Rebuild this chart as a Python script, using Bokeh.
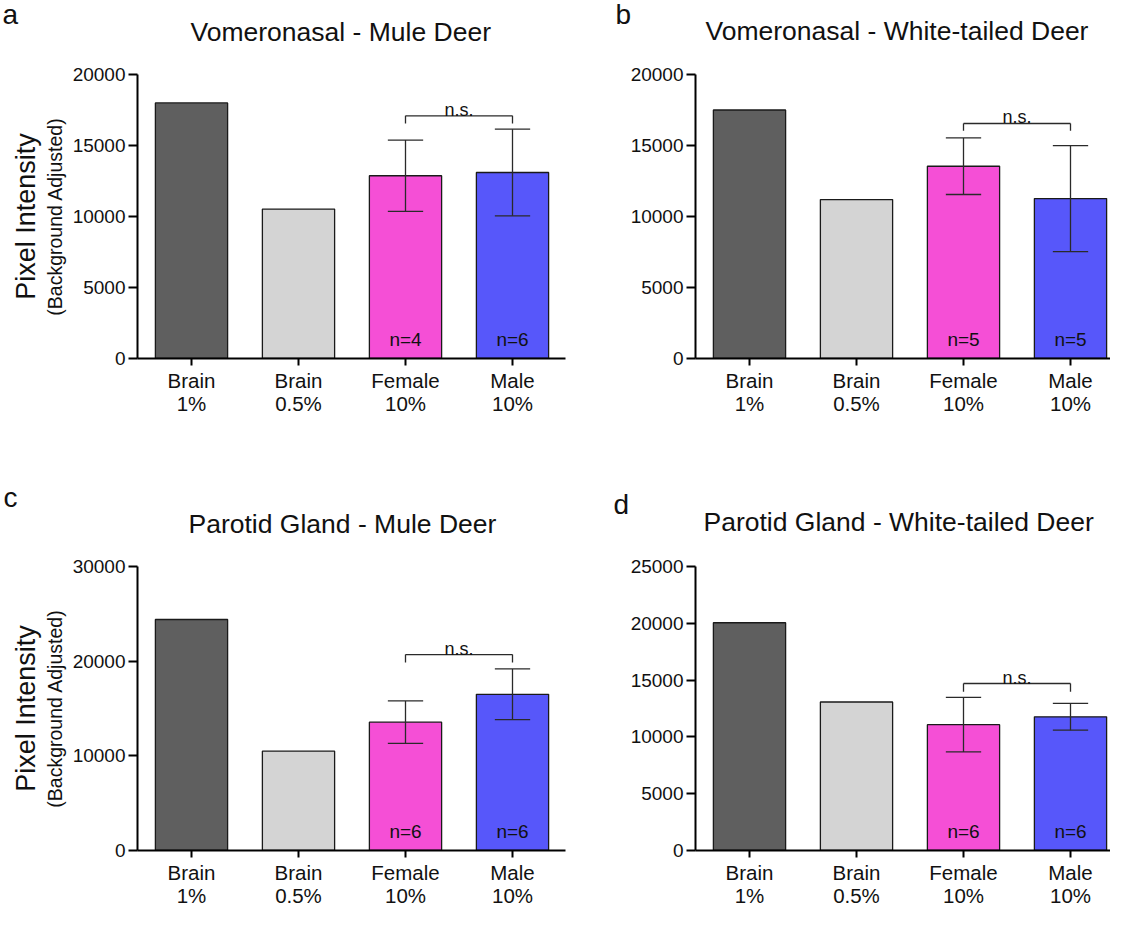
import numpy as np
from bokeh.plotting import figure
from bokeh.models import Range1d, FixedTicker, ColumnDataSource, Title, LinearAxis
from bokeh.layouts import column, row
from bokeh.embed import file_html
from bokeh.resources import INLINE
from bokeh.core.properties import value

# ---------------- data ----------------
categories = ["Brain\n1%", "Brain\n0.5%", "Female\n10%", "Male\n10%"]
bar_colors = ["#5f5f5f", "#d4d4d4", "#f54fd6", "#5757fa"]
letters = ["a", "b", "c", "d"]
titles = ["Vomeronasal - Mule Deer", "Vomeronasal - White-tailed Deer",
          "Parotid Gland - Mule Deer", "Parotid Gland - White-tailed Deer"]

vomeronasal_mule = [18000, 10520, 12870, 13100]
vomeronasal_mule_sem = [2510, 3050]          # Female, Male
vomeronasal_mule_n = [4, 6]

vomeronasal_wtd = [17500, 11190, 13540, 11260]
vomeronasal_wtd_sem = [1990, 3730]
vomeronasal_wtd_n = [5, 5]

parotid_mule = [24400, 10490, 13560, 16500]
parotid_mule_sem = [2240, 2680]
parotid_mule_n = [6, 6]

parotid_wtd = [20050, 13070, 11080, 11770]
parotid_wtd_sem = [2400, 1180]
parotid_wtd_n = [6, 6]

y_max = [20000, 20000, 30000, 25000]
y_step = [5000, 5000, 10000, 5000]
sig_bracket_y = [17090, 16550, 20700, 14700]
sig_leg_end_y = [16550, 16030, 19860, 13970]
sig_label = "n.s."
y_label_main = "Pixel Intensity"
y_label_sub = "(Background Adjusted)"

FONT = "Liberation Sans"
PX_PER_CAT = 107.0

panels = [
    dict(vals=vomeronasal_mule, sem=vomeronasal_mule_sem, n=vomeronasal_mule_n),
    dict(vals=vomeronasal_wtd, sem=vomeronasal_wtd_sem, n=vomeronasal_wtd_n),
    dict(vals=parotid_mule, sem=parotid_mule_sem, n=parotid_mule_n),
    dict(vals=parotid_wtd, sem=parotid_wtd_sem, n=parotid_wtd_n),
]

# layout: width, height, border left/right/top, frame height
layout = [
    dict(W=570, H=466, bl=137, br=5, bt=74, fh=284),
    dict(W=540, H=466, bl=125, br=0, bt=72, fh=286),
    dict(W=570, H=443, bl=137, br=5, bt=100, fh=284),
    dict(W=540, H=443, bl=125, br=0, bt=98, fh=286),
]

# header geometry: gap above frame, title standoff, letter standoff, x offsets
header_spacer = [34, 35, 34, 36]
title_standoff = [-12, -12, -12, -12]
letter_standoff = [-18, -20, 0, -18]
title_offset = [53, 10, 51, 8]
letter_offset = [-135, -80, -134, -82]
ylabel_panels = [0, 2]


def make_panel(i):
    d = panels[i]
    L = layout[i]
    fw = L["W"] - L["bl"] - L["br"]
    bb = L["H"] - L["bt"] - L["fh"]
    x0 = 1 - 54.0 / PX_PER_CAT
    x1 = x0 + fw / PX_PER_CAT
    p = figure(width=L["W"], height=L["H"], output_backend="svg", toolbar_location=None,
               x_range=Range1d(x0, x1), y_range=Range1d(0, y_max[i]), title=None,
               min_border_left=L["bl"], min_border_right=L["br"],
               min_border_top=L["bt"], min_border_bottom=bb, tools="")
    p.outline_line_color = None
    p.grid.visible = False
    p.background_fill_color = "white"
    p.border_fill_color = "white"

    xs = [1, 2, 3, 4]
    src = ColumnDataSource(dict(x=xs, top=d["vals"], color=bar_colors))
    p.vbar(x="x", top="top", bottom=0, width=0.675, fill_color="color",
           line_color="#1a1a1a", line_width=1.3, source=src)

    # error bars for Female / Male
    ex = [3, 4]
    means = d["vals"][2:]
    up = [m + s for m, s in zip(means, d["sem"])]
    lo = [m - s for m, s in zip(means, d["sem"])]
    cap = 0.165
    p.segment(x0=ex, y0=lo, x1=ex, y1=up, line_color="#2a2a2a", line_width=1.3)
    p.segment(x0=[x - cap for x in ex], y0=up, x1=[x + cap for x in ex], y1=up,
              line_color="#2a2a2a", line_width=1.3)
    p.segment(x0=[x - cap for x in ex], y0=lo, x1=[x + cap for x in ex], y1=lo,
              line_color="#2a2a2a", line_width=1.3)

    # significance bracket
    sy, ly = sig_bracket_y[i], sig_leg_end_y[i]
    p.segment(x0=[3, 3, 4], y0=[sy, sy, sy], x1=[4, 3, 4], y1=[sy, ly, ly],
              line_color="#2a2a2a", line_width=1.3)
    p.text(x=[3.5], y=[sy], text=[sig_label], text_align="center",
           text_baseline="alphabetic", y_offset=-6, text_font=value(FONT),
           text_font_size="18px", text_color="#111111")

    # n labels
    p.text(x=ex, y=[0, 0], text=["n=%d" % k for k in d["n"]], text_align="center",
           text_baseline="alphabetic", y_offset=-19, text_font=value(FONT),
           text_font_size="19px", text_color="#111111")

    # axes
    ya = p.yaxis[0]
    ya.ticker = FixedTicker(ticks=list(range(0, y_max[i] + 1, y_step[i])))
    ya.minor_tick_line_color = None
    ya.major_tick_in = 0
    ya.major_tick_out = 9
    ya.major_tick_line_width = 2
    ya.axis_line_width = 2
    ya.axis_line_color = "black"
    ya.major_tick_line_color = "black"
    ya.major_label_standoff = 3
    ya.major_label_text_font = FONT
    ya.major_label_text_font_size = "19px"
    ya.major_label_text_color = "#111111"

    xa = p.xaxis[0]
    xa.ticker = FixedTicker(ticks=xs)
    xa.major_label_overrides = {k: c for k, c in zip(xs, categories)}
    xa.minor_tick_line_color = None
    xa.major_tick_in = 0
    xa.major_tick_out = 7
    xa.major_tick_line_width = 2
    xa.axis_line_width = 2
    xa.axis_line_color = "black"
    xa.major_tick_line_color = "black"
    xa.major_label_standoff = 3
    xa.major_label_text_font = FONT
    xa.major_label_text_font_size = "20.5px"
    xa.major_label_text_line_height = 1.0
    xa.major_label_text_color = "#111111"

    if i in ylabel_panels:
        ya.axis_label = y_label_sub
        ya.axis_label_standoff = 4
        ya.axis_label_text_font = FONT
        ya.axis_label_text_font_size = "19.5px"
        ya.axis_label_text_font_style = "normal"
        ya.axis_label_text_color = "#111111"
        outer = LinearAxis(ticker=FixedTicker(ticks=[]), axis_label=y_label_main)
        outer.axis_line_color = None
        outer.major_tick_line_color = None
        outer.minor_tick_line_color = None
        outer.major_tick_out = 0
        outer.major_tick_in = 0
        outer.major_label_standoff = 0
        outer.axis_label_standoff = 0
        outer.axis_label_text_font = FONT
        outer.axis_label_text_font_size = "27px"
        outer.axis_label_text_font_style = "normal"
        outer.axis_label_text_color = "#111111"
        p.add_layout(outer, "left")

    # blank (white, non-breaking space) header row: gap between frame and title
    p.add_layout(Title(text="\u00a0", text_color="#ffffff", text_font=FONT,
                       text_font_size="26.5px", standoff=header_spacer[i] - 31.6), "above")

    # title and panel letter
    p.add_layout(Title(text=titles[i], align="left", offset=title_offset[i],
                       standoff=title_standoff[i], text_font=FONT, text_font_size="26.5px",
                       text_font_style="normal", text_color="#111111"), "above")
    p.add_layout(Title(text=letters[i], align="left", offset=letter_offset[i],
                       standoff=letter_standoff[i], text_font=FONT, text_font_size="28px",
                       text_font_style="normal", text_color="#111111"), "above")
    return p


figs = [make_panel(i) for i in range(4)]
page = column(row(figs[0], figs[1]), row(figs[2], figs[3]))

open("out.html", "w").write(file_html(page, INLINE))
